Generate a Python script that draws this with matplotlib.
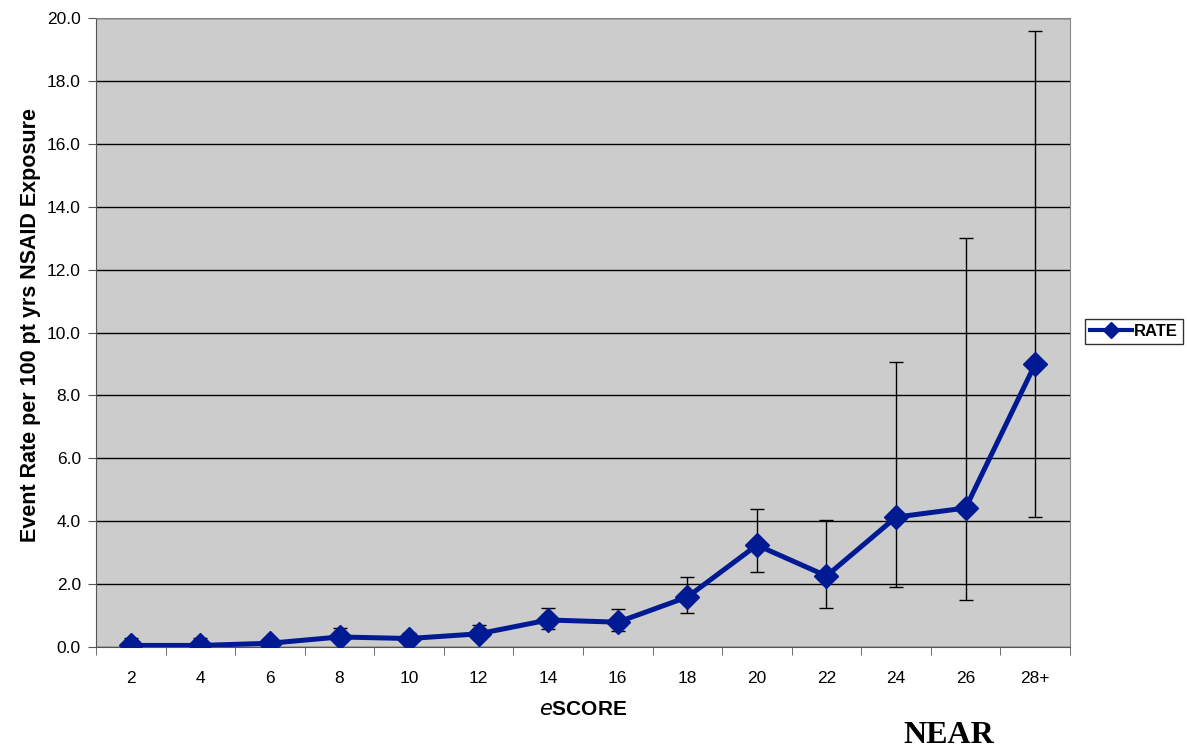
import numpy as np
import matplotlib.pyplot as plt

plt.rcParams['font.family'] = ['Liberation Sans', 'DejaVu Sans']

#data
categories = ['2', '4', '6', '8', '10', '12', '14', '16', '18', '20', '22', '24', '26', '28+']
rate = [0.05, 0.05, 0.12, 0.32, 0.27, 0.42, 0.86, 0.79, 1.59, 3.24, 2.26, 4.13, 4.42, 9.0]
upper = [0.28, 0.28, 0.14, 0.6, 0.45, 0.7, 1.24, 1.2, 2.23, 4.39, 4.04, 9.06, 13.0, 19.59]
lower = [0.0, 0.0, 0.1, 0.15, 0.15, 0.25, 0.57, 0.5, 1.08, 2.38, 1.24, 1.9, 1.5, 4.13]

rate = np.array(rate)
yerr = [rate - np.array(lower), np.array(upper) - rate]
x = np.arange(len(categories))

fig = plt.figure(figsize=(11.87, 7.52), dpi=100)
ax = fig.add_axes([0.0809, 0.1396, 0.8205, 0.8364])
ax.set_facecolor('#CCCCCC')

#error bars
ax.errorbar(x, rate, yerr=yerr, fmt='none', ecolor='black', elinewidth=1.0,
            capsize=5, capthick=1.0, zorder=3)
#main line
ax.plot(x, rate, color='#001A94', lw=3.6, marker='D', markersize=12,
        label='RATE', zorder=4)

ax.set_xlim(-0.5, len(categories) - 0.5)
ax.set_ylim(0, 20)
ax.set_yticks(np.arange(0, 20.1, 2))
ax.set_yticklabels(['%.1f' % v for v in np.arange(0, 20.1, 2)], fontsize=12.5)
ax.yaxis.grid(True, color='black', lw=1.0)
ax.set_axisbelow(True)

#category ticks between points like excel
ax.set_xticks(x)
ax.set_xticklabels(categories, fontsize=12.5)
ax.tick_params(axis='x', which='major', length=0, pad=17)
ax.set_xticks(np.arange(-0.5, len(categories), 1), minor=True)
ax.tick_params(axis='x', which='minor', length=6, color='#555555')
ax.tick_params(axis='y', length=6, color='#555555', pad=5)

for s in ['top', 'right']:
    ax.spines[s].set_color('#888888')
for s in ['left', 'bottom']:
    ax.spines[s].set_color('#555555')

ax.set_ylabel('Event Rate per 100 pt yrs NSAID Exposure', fontsize=15.5,
              fontweight='bold')
ax.yaxis.set_label_coords(-0.0565, 0.512)
ax.set_xlabel(r'$\mathbf{\mathit{e}}$SCORE', fontsize=15, fontweight='bold', labelpad=10)

leg = fig.legend(loc='center left', bbox_to_anchor=(0.914, 0.5598),
                 frameon=True, fancybox=False, edgecolor='black', handlelength=2.5,
                 handletextpad=0.15, borderpad=0.3, borderaxespad=0.0,
                 prop={'weight': 'bold', 'size': 12})
leg.get_frame().set_linewidth(1.0)
leg.legend_handles[0].set_markersize(8)
leg.legend_handles[0].set_linewidth(3)

fig.text(0.7995, 0.012, 'NEAR', fontsize=23, fontweight='bold', ha='center',
         va='baseline', family='Liberation Serif')

fig.savefig('out.png', dpi=100)
